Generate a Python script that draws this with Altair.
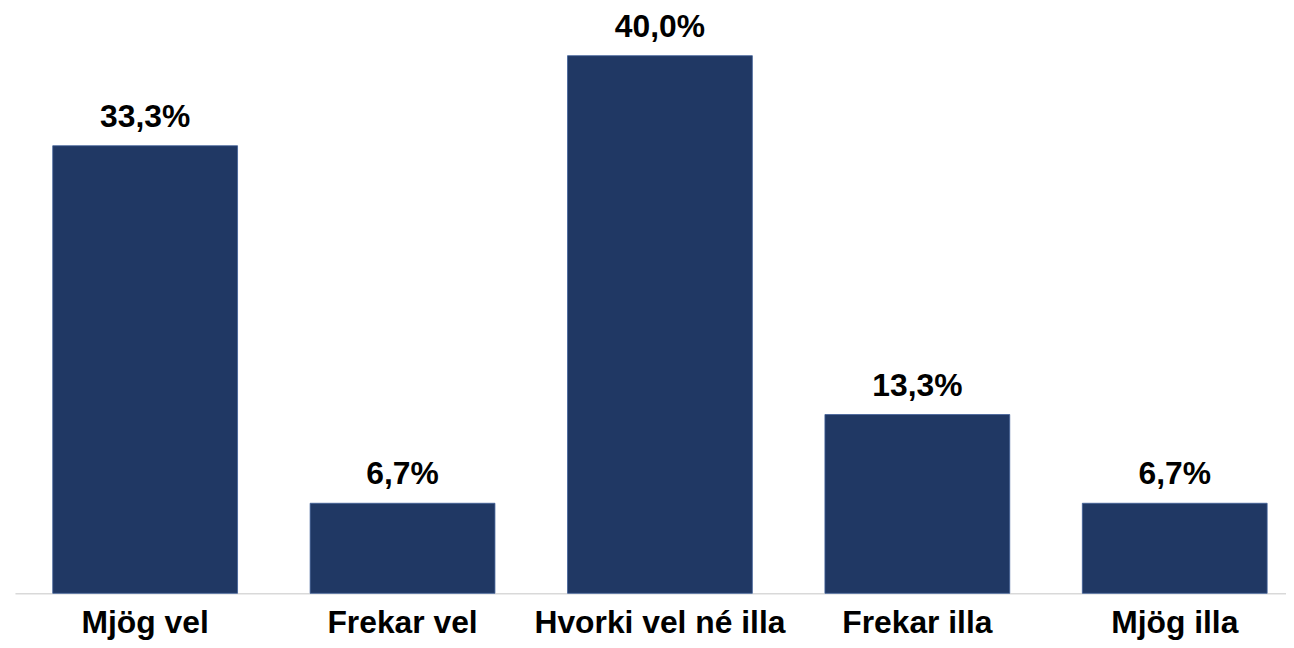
import altair as alt
import pandas as pd

categories = ["Mjög vel", "Frekar vel", "Hvorki vel né illa", "Frekar illa", "Mjög illa"]
values = [33.3, 6.7, 40.0, 13.3, 6.7]
labels = ["33,3%", "6,7%", "40,0%", "13,3%", "6,7%"]

df = pd.DataFrame({"cat": categories, "val": values, "lab": labels})

FONT = "Liberation Sans"

x = alt.X(
    "cat:N",
    sort=categories,
    scale=alt.Scale(paddingInner=0.282, paddingOuter=0.11, align=0.667),
    axis=alt.Axis(
        title=None,
        labelAngle=0,
        labelFont=FONT,
        labelFontSize=32,
        labelFontWeight="bold",
        labelColor="#000000",
        labelPadding=14,
        labelLimit=0,
        ticks=False,
        domainColor="#d9d9d9",
        domainWidth=1.5,
        grid=False,
    ),
)
y = alt.Y("val:Q", scale=alt.Scale(domain=[0, 43.4], nice=False), axis=None)

bars = alt.Chart(df).mark_bar(
    color="#203864", stroke="#3f5f98", strokeWidth=0.8
).encode(x=x, y=y)

text = alt.Chart(df).mark_text(
    font=FONT, fontSize=32, fontWeight="bold", color="#000000",
    baseline="alphabetic", dy=-19
).encode(x=x, y=y, text="lab:N")

chart = (bars + text).properties(
    width=1279, height=587,
    autosize=alt.AutoSizeParams(type="none"),
    padding={"left": 7, "top": 0, "right": 0, "bottom": 45},
    background="white",
).configure_view(stroke=None)

chart.save("out.html", embed_options={"renderer": "svg", "actions": False})
